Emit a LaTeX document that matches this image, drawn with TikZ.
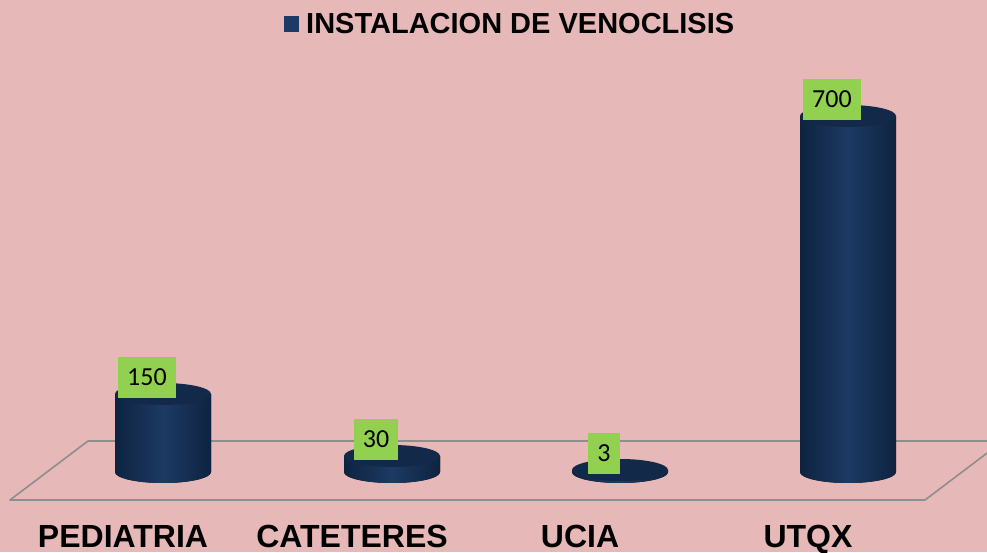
\documentclass[tikz,border=0pt]{standalone}
\usepackage{fontspec}
\usepackage{tikz}
\setmainfont{Liberation Sans}
\newfontfamily\calfont{Carlito}
\definecolor{bgpink}{HTML}{E6B8B7}
\definecolor{cyldark}{HTML}{0E2340}
\definecolor{cylmid}{HTML}{1C3A63}
\definecolor{cyltop}{HTML}{12294A}
\definecolor{valgreen}{HTML}{92D050}
\definecolor{floorgray}{HTML}{8E8E8E}
\tikzstyle{valbox} = [fill=valgreen, rectangle, inner xsep=9pt, inner ysep=0pt,
minimum height=41pt, font=\calfont\fontsize{26}{30}\selectfont, anchor=south]
\tikzstyle{catlabel} = [anchor=base, inner sep=0pt, font=\bfseries\fontsize{32}{36}\selectfont]
\tikzstyle{cylbody} = [left color=cyldark, right color=cyldark, middle color=cylmid]

\begin{document}
\begin{tikzpicture}[x=1pt, y=1pt]
		%\begin{center}
		\fill[bgpink] (0,0) rectangle (987,552);
		\useasboundingbox (0,0) rectangle (987,552);
		% floor
		\draw[floorgray, line width=1.6pt, line join=round]
			(987,98.9) -- (925,52) -- (10,52) -- (88,111) -- (987,111);
		% cylinders
		\foreach \cx/\ytop/\val/\cat [count=\i] in {163/158/150/PEDIATRIA, 392/96/30/CATETERES,
			620/82/3/UCIA, 848/436/700/UTQX}{
			\fill[cylbody] (\cx-48,\ytop) -- (\cx-48,80)
				arc[start angle=180, end angle=360, x radius=48, y radius=11]
				-- (\cx+48,\ytop) -- cycle;
			\fill[cyltop] (\cx,\ytop) ellipse [x radius=48, y radius=11];
			\node [valbox] (val-\i) at (\cx-16,\ytop-4) {\val};
			\node [catlabel] (cat-\i) at (\cx-40,5) {\cat};
		}
		% legend
		\fill[cylmid] (284,520) rectangle (299,536) coordinate (legsq);
		\node [anchor=base west, inner sep=0pt, font=\bfseries\fontsize{29}{34}\selectfont]
			(legend) at (306,518) {INSTALACION DE VENOCLISIS};
		\end{tikzpicture}
\end{document}
